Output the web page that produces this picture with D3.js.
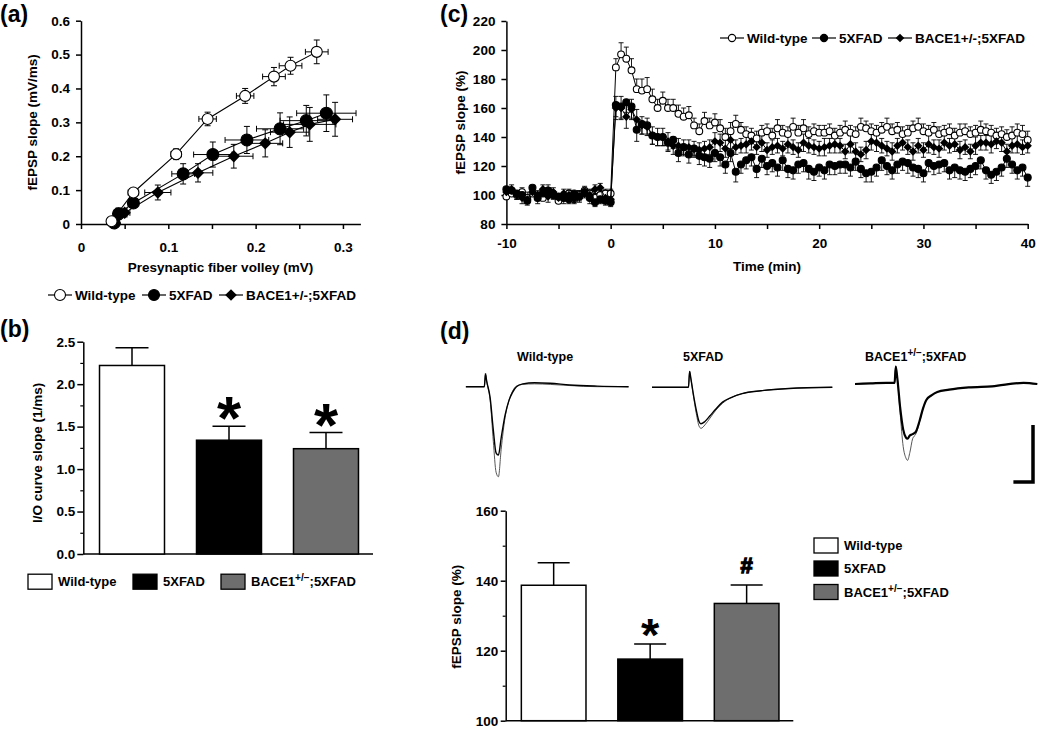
<!DOCTYPE html>
<html>
<head>
<meta charset="utf-8">
<script src="https://cdn.jsdelivr.net/npm/d3@7"></script>
<style>
html,body{margin:0;padding:0;background:#fff;}
svg{display:block;font-family:"Liberation Sans",Arial,Helvetica,sans-serif;font-weight:bold;}
</style>
</head>
<body>
<svg id="fig" width="1050" height="730"></svg>
<script>
// ================= DATA =================
// Panel (a): input/output curves
const ioGroups = ["Wild-type", "5XFAD", "BACE1+/-;5XFAD"];
const ioWTx  = [0.035, 0.060, 0.109, 0.145, 0.188, 0.221, 0.240, 0.270];
const ioWTy  = [0.008, 0.093, 0.206, 0.310, 0.378, 0.435, 0.467, 0.508];
const ioWTxe = [0.004, 0.006, 0.006, 0.010, 0.010, 0.013, 0.013, 0.013];
const ioWTye = [0.010, 0.012, 0.016, 0.020, 0.022, 0.027, 0.025, 0.035];
const io5Xx  = [0.038, 0.043, 0.060, 0.117, 0.151, 0.190, 0.228, 0.258, 0.281];
const io5Xy  = [0.003, 0.030, 0.062, 0.148, 0.205, 0.248, 0.281, 0.305, 0.327];
const io5Xxe = [0.004, 0.005, 0.005, 0.013, 0.022, 0.025, 0.027, 0.030, 0.034];
const io5Xye = [0.008, 0.017, 0.012, 0.030, 0.037, 0.040, 0.047, 0.045, 0.054];
const ioBCx  = [0.039, 0.050, 0.088, 0.134, 0.175, 0.211, 0.239, 0.262, 0.291];
const ioBCy  = [0.002, 0.033, 0.093, 0.151, 0.200, 0.238, 0.271, 0.294, 0.309];
const ioBCxe = [0.004, 0.006, 0.015, 0.017, 0.022, 0.020, 0.022, 0.030, 0.020];
const ioBCye = [0.006, 0.012, 0.022, 0.027, 0.035, 0.040, 0.045, 0.050, 0.050];
const ioXTicks = [0, 0.05, 0.1, 0.15, 0.2, 0.25, 0.3];
const ioYTicks = [0, 0.1, 0.2, 0.3, 0.4, 0.5, 0.6];

// Panel (b): I/O curve slope
const slopeGroups = ["Wild-type", "5XFAD", "BACE1+/−;5XFAD"];
const slopeValues = [2.22, 1.34, 1.24];
const slopeErrors = [0.21, 0.165, 0.19];
const slopeMarks  = ["", "*", "*"];
const slopeTicks  = [0, 0.5, 1.0, 1.5, 2.0, 2.5];
const slopeMinor  = [0.25, 0.75, 1.25, 1.75, 2.25];

// Panel (c): LTP time course
const ltpTime = [-10,-9.5,-9,-8.5,-8,-7.5,-7,-6.5,-6,-5.5,-5,-4.5,-4,-3.5,-3,-2.5,-2,-1.5,-1,-0.5,0,
 0.5,1,1.5,2,2.5,3,3.5,4,4.5,5,5.5,6,6.5,7,7.5,8,8.5,9,9.5,10,
 10.5,11,11.5,12,12.5,13,13.5,14,14.5,15,15.5,16,16.5,17,17.5,18,18.5,19,19.5,20,
 20.5,21,21.5,22,22.5,23,23.5,24,24.5,25,25.5,26,26.5,27,27.5,28,28.5,29,29.5,30,
 30.5,31,31.5,32,32.5,33,33.5,34,34.5,35,35.5,36,36.5,37,37.5,38,38.5,39,39.5,40];
const ltpWT = [99,101,100,102,98,101,99,98,103,100,96,99,101,97,100,103,101,98,100,101,101,
 188,197,194,186,173,172,173,166,160,165,
 160,160,156,154,155,148,144,151,148,150,
 146,140,144,149,145,142,141,139,143,144,
 141,146,143,142,147,143,146,142,144,143,
 143,144,141,143,145,143,142,147,146,144,
 143,145,147,144,145,142,143,146,147,144,
 143,145,142,143,144,141,143,144,142,143,
 145,144,143,141,142,140,141,143,142,138];
const ltp5X = [104,103,101,100,96,105,98,101,103,100,99,98,97,101,99,102,98,95,97,96,95,
 162,161,164,161,145,149,148,141,140,140,
 136,138,129,133,128,132,127,126,125,129,
 126,121,129,116,121,124,126,118,125,120,
 122,119,124,118,117,121,122,118,116,119,
 117,121,120,121,121,119,123,118,115,116,
 119,124,120,117,121,123,122,119,118,115,
 122,120,121,122,117,119,117,116,118,120,
 124,117,114,116,119,125,121,117,119,112];
const ltpBC = [102,104,100,98,97,102,100,104,99,102,98,101,100,97,99,101,100,104,105,98,97,
 160,160,154,159,152,148,147,141,140,140,
 137,134,134,133,133,132,131,132,133,137,
 136,132,138,133,134,135,137,133,136,131,
 133,134,132,135,133,131,136,134,133,132,
 133,134,135,134,130,135,130,128,131,137,
 136,134,132,130,134,136,133,130,134,131,
 135,133,132,136,134,135,131,133,130,134,
 136,136,135,137,136,130,134,135,133,134];
const ltpWTerr = [3,4,3,3,4,3,3,3,4,3,3,3,3,4,3,3,3,3,3,3,3,
 6,8,8,8,7,8,8,7,6,6, 6,6,6,6,6,5,5,6,5,6, 6,6,6,6,5,5,5,5,5,5, 5,6,5,5,6,5,6,5,5,5,
 5,5,5,5,6,5,5,6,5,5, 5,5,6,5,5,5,5,5,6,5, 5,5,5,5,5,5,6,5,5,5, 6,5,5,5,5,5,6,6,6,6];
const ltp5Xerr = [3,3,4,3,3,3,4,3,3,3,3,4,3,3,3,3,4,3,3,3,3,
 8,8,7,8,8,7,6,6,6,6, 6,6,6,6,6,6,6,6,6,6, 6,6,6,7,6,6,6,6,6,6, 6,6,7,6,6,6,6,7,6,6,
 6,7,6,6,6,6,6,6,6,7, 6,7,6,6,6,6,7,6,6,6, 6,6,6,6,6,7,6,6,6,6, 6,6,6,6,6,6,6,6,6,6];
const ltpBCerr = [3,3,3,4,3,3,3,3,4,3,3,3,3,3,4,3,3,3,3,4,3,
 8,8,8,7,7,6,6,6,6,6, 6,6,5,5,5,5,5,5,5,6, 6,6,6,5,5,6,6,5,6,5, 5,5,5,6,5,5,6,5,5,5,
 6,5,6,5,5,6,6,5,6,6, 6,5,5,6,5,5,5,6,5,5, 6,5,6,5,5,5,6,5,5,6, 5,5,6,5,6,5,5,6,5,5];
const ltpXTicks = [-10,-5,0,5,10,15,20,25,30,35,40];
const ltpYTicks = [80,100,120,140,160,180,200,220];

// Panel (d): representative traces (time in ms, voltage in mV)
const traceLabels = ["Wild-type", "5XFAD", "BACE1+/−;5XFAD"];
const traceWTt    = [1.5, 6.2, 6.5, 6.8, 7.7, 8.5, 9.2, 9.8, 10.5, 11.5, 12.5, 13.4, 14.4, 16, 19, 23, 28, 35, 43];
const traceWTbase = [0, 0, 0.11, 0.05, -0.10, -0.38, -0.58, -0.60, -0.45, -0.25, -0.12, -0.05, 0, 0.025, 0.035, 0.03, 0.015, 0.005, 0];
const traceWTltp  = [0, 0, 0.12, 0.05, -0.12, -0.48, -0.75, -0.79, -0.55, -0.27, -0.12, -0.04, 0.005, 0.02, 0.025, 0.02, 0.01, 0, 0];
const trace5Xt    = [0, 9.3, 9.6, 9.9, 10.5, 11.3, 12.0, 12.5, 13.5, 14.8, 16.3, 18, 20.2, 23, 27.8, 35, 46];
const trace5Xbase = [0, 0, 0.14, 0.08, -0.05, -0.20, -0.30, -0.32, -0.30, -0.25, -0.19, -0.13, -0.09, -0.055, -0.03, -0.01, 0];
const trace5Xltp  = [0, 0, 0.14, 0.08, -0.06, -0.23, -0.34, -0.36, -0.33, -0.27, -0.20, -0.14, -0.09, -0.055, -0.03, -0.01, 0];
const traceBCt    = [0, 4, 8, 10.1, 10.4, 10.8, 11.5, 12.3, 13.0, 13.4, 14.0, 14.7, 15.5, 16.5, 17.3, 18.2, 19.5, 21, 24, 29, 35, 43, 46.5];
const traceBCbase = [0, 0.005, 0.01, 0.01, 0.15, 0.05, -0.20, -0.40, -0.47, -0.48, -0.45, -0.44, -0.42, -0.32, -0.22, -0.14, -0.10, -0.07, -0.05, -0.03, -0.02, 0.01, 0];
const traceBCltp  = [0, 0.005, 0.01, 0.01, 0.16, 0.05, -0.25, -0.55, -0.65, -0.67, -0.60, -0.48, -0.44, -0.33, -0.22, -0.14, -0.10, -0.07, -0.05, -0.03, -0.02, 0.01, 0];
const scaleBarMs = 5;
const scaleBarMv = 0.5;

// Panel (d): LTP magnitude
const magGroups = ["Wild-type", "5XFAD", "BACE1+/−;5XFAD"];
const magValues = [138.7, 117.6, 133.5];
const magErrors = [6.4, 4.3, 5.3];
const magMarks  = ["", "*", "#"];
const magTicks  = [100, 120, 140, 160];
const magMinor  = [110, 130, 150];

// ================= DRAWING =================
const svg = d3.select("#fig");
const barFills = ["#ffffff", "#000000", "#6e6e6e"];

function fixAxis(g, sw) {
  g.attr("font-family", null).attr("font-size", null);
  g.selectAll(".domain, .tick line").attr("stroke", "#000").attr("stroke-width", sw || 1.5);
  g.selectAll(".tick text").attr("fill", "#000").attr("font-size", 13.5).attr("font-weight", "bold");
}
function panelLabel(txt, x, y) {
  svg.append("text").attr("x", x).attr("y", y).attr("font-size", 23).attr("font-weight", "bold").text(txt);
}
function drawMarker(g, type, cx, cy, r) {
  if (type === "diamond") {
    g.append("path").attr("d", d3.symbol().type(d3.symbolSquare).size(2 * r * r)())
      .attr("transform", `translate(${cx},${cy}) rotate(45)`).attr("fill", "#000");
  } else {
    g.append("circle").attr("cx", cx).attr("cy", cy).attr("r", r)
      .attr("fill", type === "open" ? "#fff" : "#000").attr("stroke", "#000").attr("stroke-width", 1.1);
  }
}
function lineLegend(g, items, y, r, rd) {
  items.forEach(it => {
    g.append("line").attr("x1", it.x).attr("x2", it.x + 24).attr("y1", y).attr("y2", y)
      .attr("stroke", "#000").attr("stroke-width", 1.2);
    drawMarker(g, it.type, it.x + 12, y, it.type === "diamond" ? rd : r);
    g.append("text").attr("x", it.x + 27).attr("y", y).attr("dy", "0.35em")
      .attr("font-size", 13.5).text(it.label);
  });
}
function supLabel(sel, label) {
  const m = label.match(/^(BACE1)(\+\/−)(.*)$/);
  if (!m) { sel.text(label); return; }
  sel.append("tspan").text(m[1]);
  sel.append("tspan").attr("dy", -5).attr("font-size", 10).text(m[2]);
  sel.append("tspan").attr("dy", 5).text(m[3]);
}
function boxLegend(g, groups, xs, ys, fsz) {
  groups.forEach((lab, i) => {
    g.append("rect").attr("x", xs[i]).attr("y", ys[i] - 7.5).attr("width", 24).attr("height", 15)
      .attr("fill", barFills[i]).attr("stroke", "#000").attr("stroke-width", 1.3);
    const t = g.append("text").attr("x", xs[i] + 30).attr("y", ys[i]).attr("dy", "0.35em").attr("font-size", fsz);
    supLabel(t, lab);
  });
}
const fmt1 = d => (d === 0 ? "0" : d.toFixed(1));

// ---------- Panel (a) ----------
panelLabel("(a)", 0, 22);
const gA = svg.append("g");
const xA = d3.scaleLinear().domain([0, 0.32]).range([81, 360.4]);
const yA = d3.scaleLinear().domain([0, 0.6]).range([224, 20.7]);
gA.append("g").attr("transform", `translate(0,${yA(0)})`)
  .call(d3.axisBottom(xA).tickValues(ioXTicks).tickSize(5).tickSizeOuter(0).tickPadding(13)
    .tickFormat(d => (Math.abs(d * 10 - Math.round(d * 10)) < 1e-6 ? fmt1(d) : "")))
  .call(fixAxis);
gA.append("g").attr("transform", `translate(${xA(0)},0)`)
  .call(d3.axisLeft(yA).tickValues(ioYTicks).tickSize(5).tickSizeOuter(0).tickPadding(6).tickFormat(fmt1))
  .call(fixAxis);
gA.append("text").attr("transform", `translate(32,${(yA(0) + yA(0.6)) / 2}) rotate(-90)`)
  .attr("text-anchor", "middle").attr("dy", "0.35em").attr("font-size", 13.5).text("fEPSP slope (mV/ms)");
gA.append("text").attr("x", 220.5).attr("y", 267).attr("dy", "0.35em")
  .attr("text-anchor", "middle").attr("font-size", 13.5).text("Presynaptic fiber volley (mV)");

const ioSeries = [
  { x: io5Xx, y: io5Xy, xe: io5Xxe, ye: io5Xye, type: "filled", r: 6 },
  { x: ioBCx, y: ioBCy, xe: ioBCxe, ye: ioBCye, type: "diamond", r: 6.2 },
  { x: ioWTx, y: ioWTy, xe: ioWTxe, ye: ioWTye, type: "open", r: 5.5 }
];
ioSeries.forEach(s => {
  const idx = d3.range(s.x.length);
  gA.append("path").attr("d", d3.line().x(i => xA(s.x[i])).y(i => yA(s.y[i]))(idx))
    .attr("fill", "none").attr("stroke", "#000").attr("stroke-width", 1.1);
});
ioSeries.forEach(s => {
  s.x.forEach((xv, i) => {
    const cx = xA(xv), cy = yA(s.y[i]);
    const x0 = xA(xv - s.xe[i]), x1 = xA(xv + s.xe[i]);
    const y0 = yA(s.y[i] - s.ye[i]), y1 = yA(s.y[i] + s.ye[i]);
    const p = `M${x0},${cy}H${x1}M${x0},${cy - 3}V${cy + 3}M${x1},${cy - 3}V${cy + 3}` +
              `M${cx},${y0}V${y1}M${cx - 3},${y0}H${cx + 3}M${cx - 3},${y1}H${cx + 3}`;
    gA.append("path").attr("d", p).attr("fill", "none").attr("stroke", "#000").attr("stroke-width", 1);
  });
});
ioSeries.forEach(s => {
  s.x.forEach((xv, i) => drawMarker(gA, s.type, xA(xv), yA(s.y[i]), s.r));
});
lineLegend(gA, [
  { x: 48, type: "open", label: ioGroups[0] },
  { x: 142, type: "filled", label: ioGroups[1] },
  { x: 219, type: "diamond", label: ioGroups[2] }
], 295, 5.5, 5.8);

// ---------- Panel (b) ----------
panelLabel("(b)", 0, 337);
const gB = svg.append("g");
const yB = d3.scaleLinear().domain([0, 2.5]).range([554, 341.7]);
const xB = d3.scaleBand().domain(slopeGroups).range([67.5, 390.5]).paddingInner(0.33).paddingOuter(0.33);
gB.append("g").attr("transform", "translate(83.3,0)")
  .call(d3.axisLeft(yB).tickValues(slopeTicks).tickSize(6).tickSizeOuter(0).tickPadding(2).tickFormat(d => d.toFixed(1)))
  .call(fixAxis);
gB.append("g").attr("transform", "translate(83.3,0)")
  .call(d3.axisLeft(yB).tickValues(slopeMinor).tickSize(3).tickSizeOuter(0).tickFormat(""))
  .call(g => { fixAxis(g, 1.2); g.select(".domain").remove(); });
gB.append("line").attr("x1", 83.3).attr("x2", 373).attr("y1", yB(0)).attr("y2", yB(0))
  .attr("stroke", "#000").attr("stroke-width", 1.5);
slopeGroups.forEach((grp, i) => {
  const x = xB(grp), w = xB.bandwidth(), cx = x + w / 2;
  const top = yB(slopeValues[i] + slopeErrors[i]);
  gB.append("path").attr("d", `M${cx},${yB(slopeValues[i])}V${top}M${cx - 16.5},${top}H${cx + 16.5}`)
    .attr("stroke", "#000").attr("stroke-width", 1.5).attr("fill", "none");
  gB.append("rect").attr("x", x).attr("y", yB(slopeValues[i])).attr("width", w)
    .attr("height", yB(0) - yB(slopeValues[i])).attr("fill", barFills[i]).attr("stroke", "#000").attr("stroke-width", 1.5);
  if (slopeMarks[i]) {
    gB.append("text").attr("x", cx).attr("y", top - 15 + 28).attr("text-anchor", "middle")
      .attr("font-size", 62).text(slopeMarks[i]);
  }
});
gB.append("text").attr("transform", `translate(37,${(yB(0) + yB(2.5)) / 2 + 5}) rotate(-90)`)
  .attr("text-anchor", "middle").attr("dy", "0.35em").attr("font-size", 13.5).text("I/O curve slope (1/ms)");
boxLegend(gB, slopeGroups, [28, 133, 221], [581.7, 581.7, 581.7], 13);

// ---------- Panel (c) ----------
panelLabel("(c)", 440, 22);
const gC = svg.append("g");
const xC = d3.scaleLinear().domain([-10, 40]).range([506.4, 1027.7]);
const yC = d3.scaleLinear().domain([80, 220]).range([224, 21]);
gC.append("g").attr("transform", `translate(0,${yC(80)})`)
  .call(d3.axisBottom(xC).tickValues(ltpXTicks).tickSize(5).tickSizeOuter(0).tickPadding(9)
    .tickFormat(d => (d % 10 === 0 ? String(d) : "")))
  .call(fixAxis);
gC.append("g").attr("transform", `translate(${xC(-10)},0)`)
  .call(d3.axisLeft(yC).tickValues(ltpYTicks).tickSize(5).tickSizeOuter(0).tickPadding(6))
  .call(fixAxis);
gC.append("text").attr("transform", `translate(460,${(yC(80) + yC(220)) / 2}) rotate(-90)`)
  .attr("text-anchor", "middle").attr("dy", "0.35em").attr("font-size", 13.5).text("fEPSP slope (%)");
gC.append("text").attr("x", 767).attr("y", 266).attr("dy", "0.35em")
  .attr("text-anchor", "middle").attr("font-size", 13.5).text("Time (min)");

const ltpSeries = [
  { v: ltpWT, e: ltpWTerr, type: "open", dirs: [1], r: 3.4 },
  { v: ltpBC, e: ltpBCerr, type: "diamond", dirs: [1, -1], r: 4.2 },
  { v: ltp5X, e: ltp5Xerr, type: "filled", dirs: [-1], r: 3.5 }
];
ltpSeries.forEach(s => {
  let p = "";
  s.v.forEach((v, i) => {
    const cx = xC(ltpTime[i]);
    s.dirs.forEach(dsg => {
      const ye = yC(v + dsg * s.e[i]);
      p += `M${cx},${yC(v)}V${ye}M${cx - 2.5},${ye}H${cx + 2.5}`;
    });
  });
  gC.append("path").attr("d", p).attr("stroke", "#000").attr("stroke-width", 0.9).attr("fill", "none");
});
ltpSeries.forEach(s => {
  const idx = d3.range(s.v.length);
  gC.append("path").attr("d", d3.line().x(i => xC(ltpTime[i])).y(i => yC(s.v[i]))(idx))
    .attr("fill", "none").attr("stroke", "#000").attr("stroke-width", 1);
  s.v.forEach((v, i) => drawMarker(gC, s.type, xC(ltpTime[i]), yC(v), s.r));
});
lineLegend(gC, [
  { x: 720, type: "open", label: ioGroups[0] },
  { x: 812, type: "filled", label: ioGroups[1] },
  { x: 888, type: "diamond", label: ioGroups[2] }
], 38, 3.6, 4.3);

// ---------- Panel (d) traces ----------
panelLabel("(d)", 440, 339);
const gD = svg.append("g");
const xT = d3.scaleLinear().domain([0, scaleBarMs]).range([0, 19.6]);
const yT = d3.scaleLinear().domain([0, -scaleBarMv]).range([0, 57]);
const traceSets = [
  { ox: 460, oy: 386.7, t: traceWTt, base: traceWTbase, ltp: traceWTltp, bw: 1.4, label: traceLabels[0], lx: 517 },
  { ox: 652, oy: 387.3, t: trace5Xt, base: trace5Xbase, ltp: trace5Xltp, bw: 1.4, label: traceLabels[1], lx: 683 },
  { ox: 855, oy: 384, t: traceBCt, base: traceBCbase, ltp: traceBCltp, bw: 2.2, label: traceLabels[2], lx: 865 }
];
traceSets.forEach(ts => {
  const g = gD.append("g").attr("transform", `translate(${ts.ox},${ts.oy})`);
  const idx = d3.range(ts.t.length);
  const mk = arr => d3.line().curve(d3.curveMonotoneX).x(i => xT(ts.t[i])).y(i => yT(arr[i]))(idx);
  g.append("path").attr("d", mk(ts.ltp)).attr("fill", "none").attr("stroke", "#444").attr("stroke-width", 0.9);
  g.append("path").attr("d", mk(ts.base)).attr("fill", "none").attr("stroke", "#000").attr("stroke-width", ts.bw);
  const t = gD.append("text").attr("x", ts.lx).attr("y", 361).attr("font-size", 12.5);
  supLabel(t, ts.label);
});
const sbx = 1033, sby = 482;
gD.append("path").attr("d", `M${sbx - xT(scaleBarMs)},${sby}H${sbx}V${sby - yT(-scaleBarMv)}`)
  .attr("fill", "none").attr("stroke", "#000").attr("stroke-width", 3.5);

// ---------- Panel (d) bars ----------
const yD = d3.scaleLinear().domain([100, 160]).range([720.7, 510.7]);
const xD = d3.scaleBand().domain(magGroups).range([489.5, 810.8]).paddingInner(0.33).paddingOuter(0.33);
gD.append("g").attr("transform", "translate(505.7,0)")
  .call(d3.axisLeft(yD).tickValues(magTicks).tickSize(5).tickSizeOuter(0).tickPadding(2.5))
  .call(fixAxis);
gD.append("g").attr("transform", "translate(505.7,0)")
  .call(d3.axisLeft(yD).tickValues(magMinor).tickSize(3).tickSizeOuter(0).tickFormat(""))
  .call(g => { fixAxis(g, 1.2); g.select(".domain").remove(); });
gD.append("line").attr("x1", 505.7).attr("x2", 793.3).attr("y1", yD(100)).attr("y2", yD(100))
  .attr("stroke", "#000").attr("stroke-width", 1.5);
magGroups.forEach((grp, i) => {
  const x = xD(grp), w = xD.bandwidth(), cx = x + w / 2;
  const top = yD(magValues[i] + magErrors[i]);
  gD.append("path").attr("d", `M${cx},${yD(magValues[i])}V${top}M${cx - 16},${top}H${cx + 16}`)
    .attr("stroke", "#000").attr("stroke-width", 1.5).attr("fill", "none");
  gD.append("rect").attr("x", x).attr("y", yD(magValues[i])).attr("width", w)
    .attr("height", yD(100) - yD(magValues[i])).attr("fill", barFills[i]).attr("stroke", "#000").attr("stroke-width", 1.5);
  if (magMarks[i] === "*") {
    gD.append("text").attr("x", cx).attr("y", top - 14 + 21).attr("text-anchor", "middle")
      .attr("font-size", 47).text(magMarks[i]);
  } else if (magMarks[i]) {
    gD.append("text").attr("x", cx).attr("y", top - 19 + 7.5).attr("text-anchor", "middle")
      .attr("font-size", 22).attr("stroke", "#000").attr("stroke-width", 1.3).text(magMarks[i]);
  }
});
gD.append("text").attr("transform", `translate(456,${(yD(100) + yD(160)) / 2 + 1}) rotate(-90)`)
  .attr("text-anchor", "middle").attr("dy", "0.35em").attr("font-size", 13.5).text("fEPSP slope (%)");
boxLegend(gD, magGroups, [814, 814, 814], [545.5, 568.5, 592], 13);
</script>
</body>
</html>
